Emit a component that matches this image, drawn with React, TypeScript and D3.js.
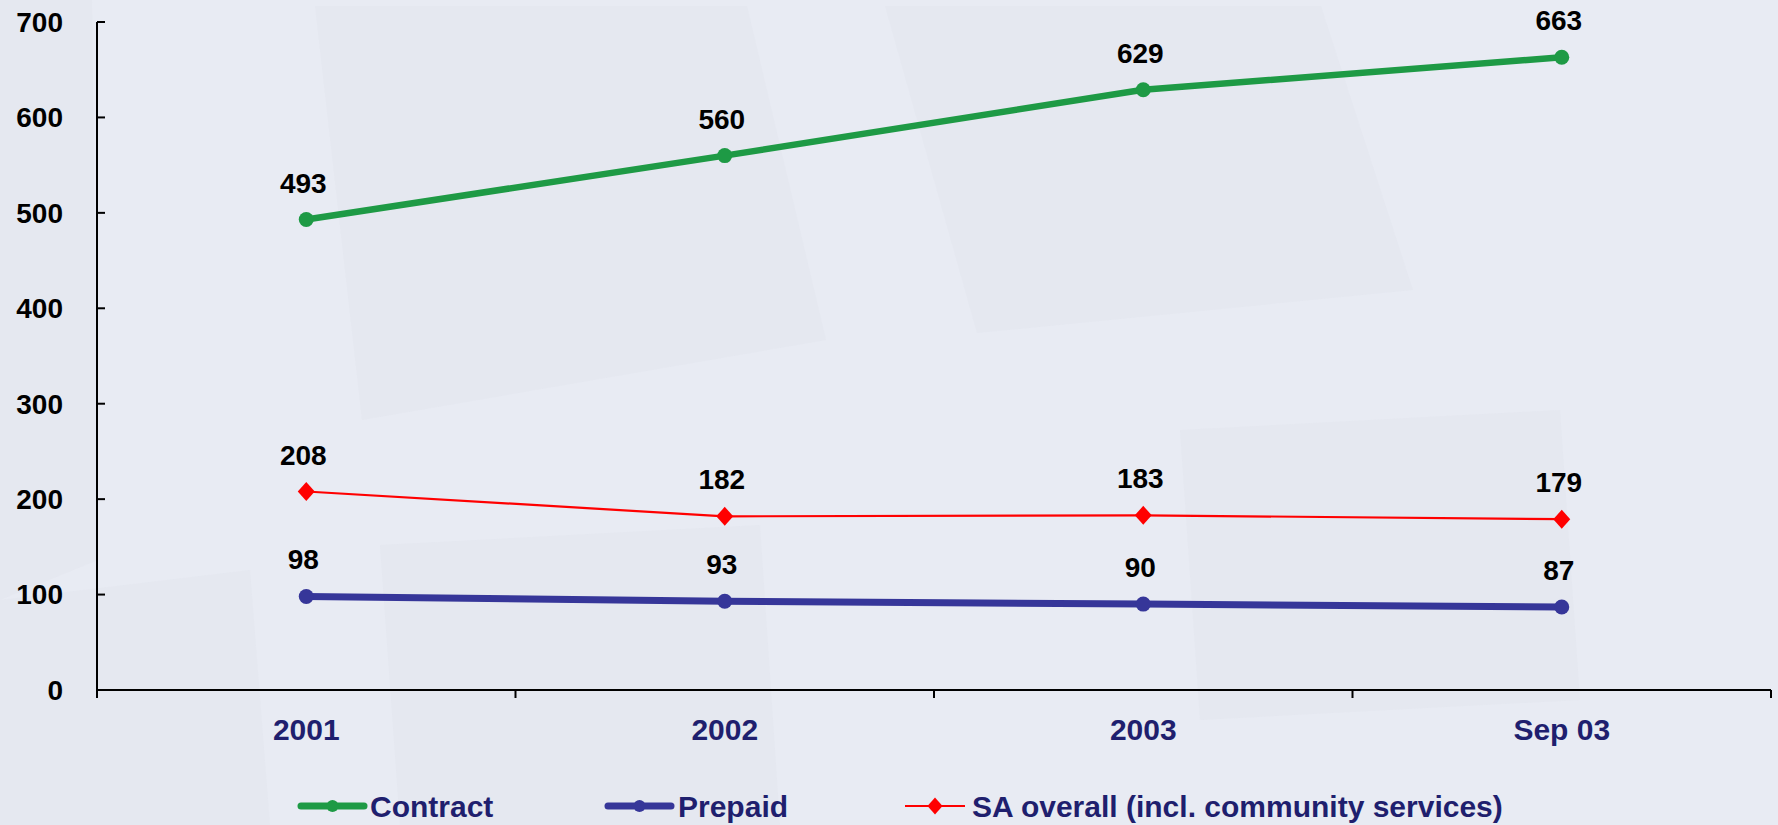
import * as d3 from 'd3';

const CATEGORIES = ['2001', '2002', '2003', 'Sep 03'];
const CONTRACT = [493, 560, 629, 663];
const PREPAID = [98, 93, 90, 87];
const SA_OVERALL = [208, 182, 183, 179];
const Y_TICKS = [0, 100, 200, 300, 400, 500, 600, 700];

const VW = 1778;
const VH = 825;
const LEFT = 97;
const RIGHT = 1771;
const TOP = 22;
const BOTTOM = 690;

const GREEN = '#1e9a45';
const BLUE = '#363699';
const RED = '#ff0000';
const NAVY = '#1f1f6e';
const FONT = "Arial, 'Liberation Sans', sans-serif";

const x = d3.scaleBand<string>().domain(CATEGORIES).range([LEFT, RIGHT]).padding(0);
const cx = (c: string) => (x(c) ?? 0) + x.bandwidth() / 2;
const y = d3.scaleLinear().domain([0, 700]).range([BOTTOM, TOP]);

const line = d3.line<number>()
  .x((_, i) => cx(CATEGORIES[i]))
  .y(d => y(d));

const diamondPath = (w: number, h: number) => `M0,${-h}L${w},0L0,${h}L${-w},0Z`;

// faint background patches (slide texture)
const PATCHES: [number, number][][] = [
  [[0, 0], [92, 0], [98, 560], [0, 600]],
  [[315, 6], [747, 6], [826, 340], [362, 420]],
  [[885, 6], [1321, 6], [1413, 290], [977, 333]],
  [[380, 545], [760, 525], [780, 825], [400, 825]],
  [[0, 600], [250, 570], [270, 825], [0, 825]],
  [[1180, 430], [1560, 410], [1580, 700], [1200, 720]],
];

export default function App() {
  const series = [
    { vals: CONTRACT, color: GREEN, width: 6.5, marker: 'circle' },
    { vals: SA_OVERALL, color: RED, width: 2.2, marker: 'diamond' },
    { vals: PREPAID, color: BLUE, width: 7, marker: 'circle' },
  ];

  const legend = [
    { label: 'Contract', color: GREEN, x0: 301, x1: 364, tx: 370, width: 7, marker: 'circle' },
    { label: 'Prepaid', color: BLUE, x0: 608, x1: 671, tx: 678, width: 7, marker: 'circle' },
    { label: 'SA overall (incl. community services)', color: RED, x0: 905, x1: 965, tx: 972, width: 2.2, marker: 'diamond' },
  ];

  return (
    <svg width={VW} height={VH} viewBox={`0 0 ${VW} ${VH}`}
      style={{ position: 'absolute', left: 0, top: 0, display: 'block' }}>
      <rect x={0} y={0} width={VW} height={VH} fill="#e8ebf3" />
      {PATCHES.map((p, i) => (
        <polygon key={i} points={p.map(q => q.join(',')).join(' ')} fill="#dfe2ea" opacity={0.35} />
      ))}

      {/* y axis */}
      <line x1={LEFT} y1={TOP} x2={LEFT} y2={BOTTOM + 7} stroke="#000" strokeWidth={2} />
      {Y_TICKS.map(t => (
        <g key={t}>
          <line x1={LEFT} y1={y(t)} x2={LEFT + 8} y2={y(t)} stroke="#000" strokeWidth={2} />
          <text x={63} y={y(t)} dy="0.35em" textAnchor="end" fontSize={28} fontWeight={700}
            fill="#000" fontFamily={FONT}>{t}</text>
        </g>
      ))}

      {/* x axis */}
      <line x1={LEFT} y1={BOTTOM} x2={RIGHT} y2={BOTTOM} stroke="#000" strokeWidth={2} />
      {CATEGORIES.map(c => (
        <line key={c} x1={x(c) ?? 0} y1={BOTTOM} x2={x(c) ?? 0} y2={BOTTOM + 8}
          stroke="#000" strokeWidth={2} />
      ))}
      <line x1={RIGHT} y1={BOTTOM} x2={RIGHT} y2={BOTTOM + 8} stroke="#000" strokeWidth={2} />
      {CATEGORIES.map(c => (
        <text key={c} x={cx(c)} y={740} textAnchor="middle" fontSize={30} fontWeight={700}
          fill={NAVY} fontFamily={FONT}>{c}</text>
      ))}

      {/* series */}
      {series.map((s, si) => (
        <g key={si}>
          <path d={line(s.vals) ?? ''} fill="none" stroke={s.color} strokeWidth={s.width}
            strokeLinejoin="round" />
          {s.vals.map((v, i) => s.marker === 'circle' ? (
            <circle key={i} cx={cx(CATEGORIES[i])} cy={y(v)} r={7.5} fill={s.color} />
          ) : (
            <path key={i} d={diamondPath(8.5, 9.5)} transform={`translate(${cx(CATEGORIES[i])},${y(v)})`}
              fill={s.color} />
          ))}
          {s.vals.map((v, i) => (
            <text key={`l${i}`} x={cx(CATEGORIES[i]) - 3} y={y(v) - 27} textAnchor="middle"
              fontSize={28} fontWeight={700} fill="#000" fontFamily={FONT}>{v}</text>
          ))}
        </g>
      ))}

      {/* legend */}
      {legend.map(l => (
        <g key={l.label}>
          <line x1={l.x0} y1={806} x2={l.x1} y2={806} stroke={l.color} strokeWidth={l.width}
            strokeLinecap={l.marker === 'circle' ? 'round' : 'butt'} />
          {l.marker === 'circle' ? (
            <circle cx={(l.x0 + l.x1) / 2} cy={806} r={6} fill={l.color} />
          ) : (
            <path d={diamondPath(7.5, 8.5)} transform={`translate(${(l.x0 + l.x1) / 2},806)`} fill={l.color} />
          )}
          <text x={l.tx} y={817} fontSize={30} fontWeight={700} fill={NAVY} fontFamily={FONT}>{l.label}</text>
        </g>
      ))}
    </svg>
  );
}
